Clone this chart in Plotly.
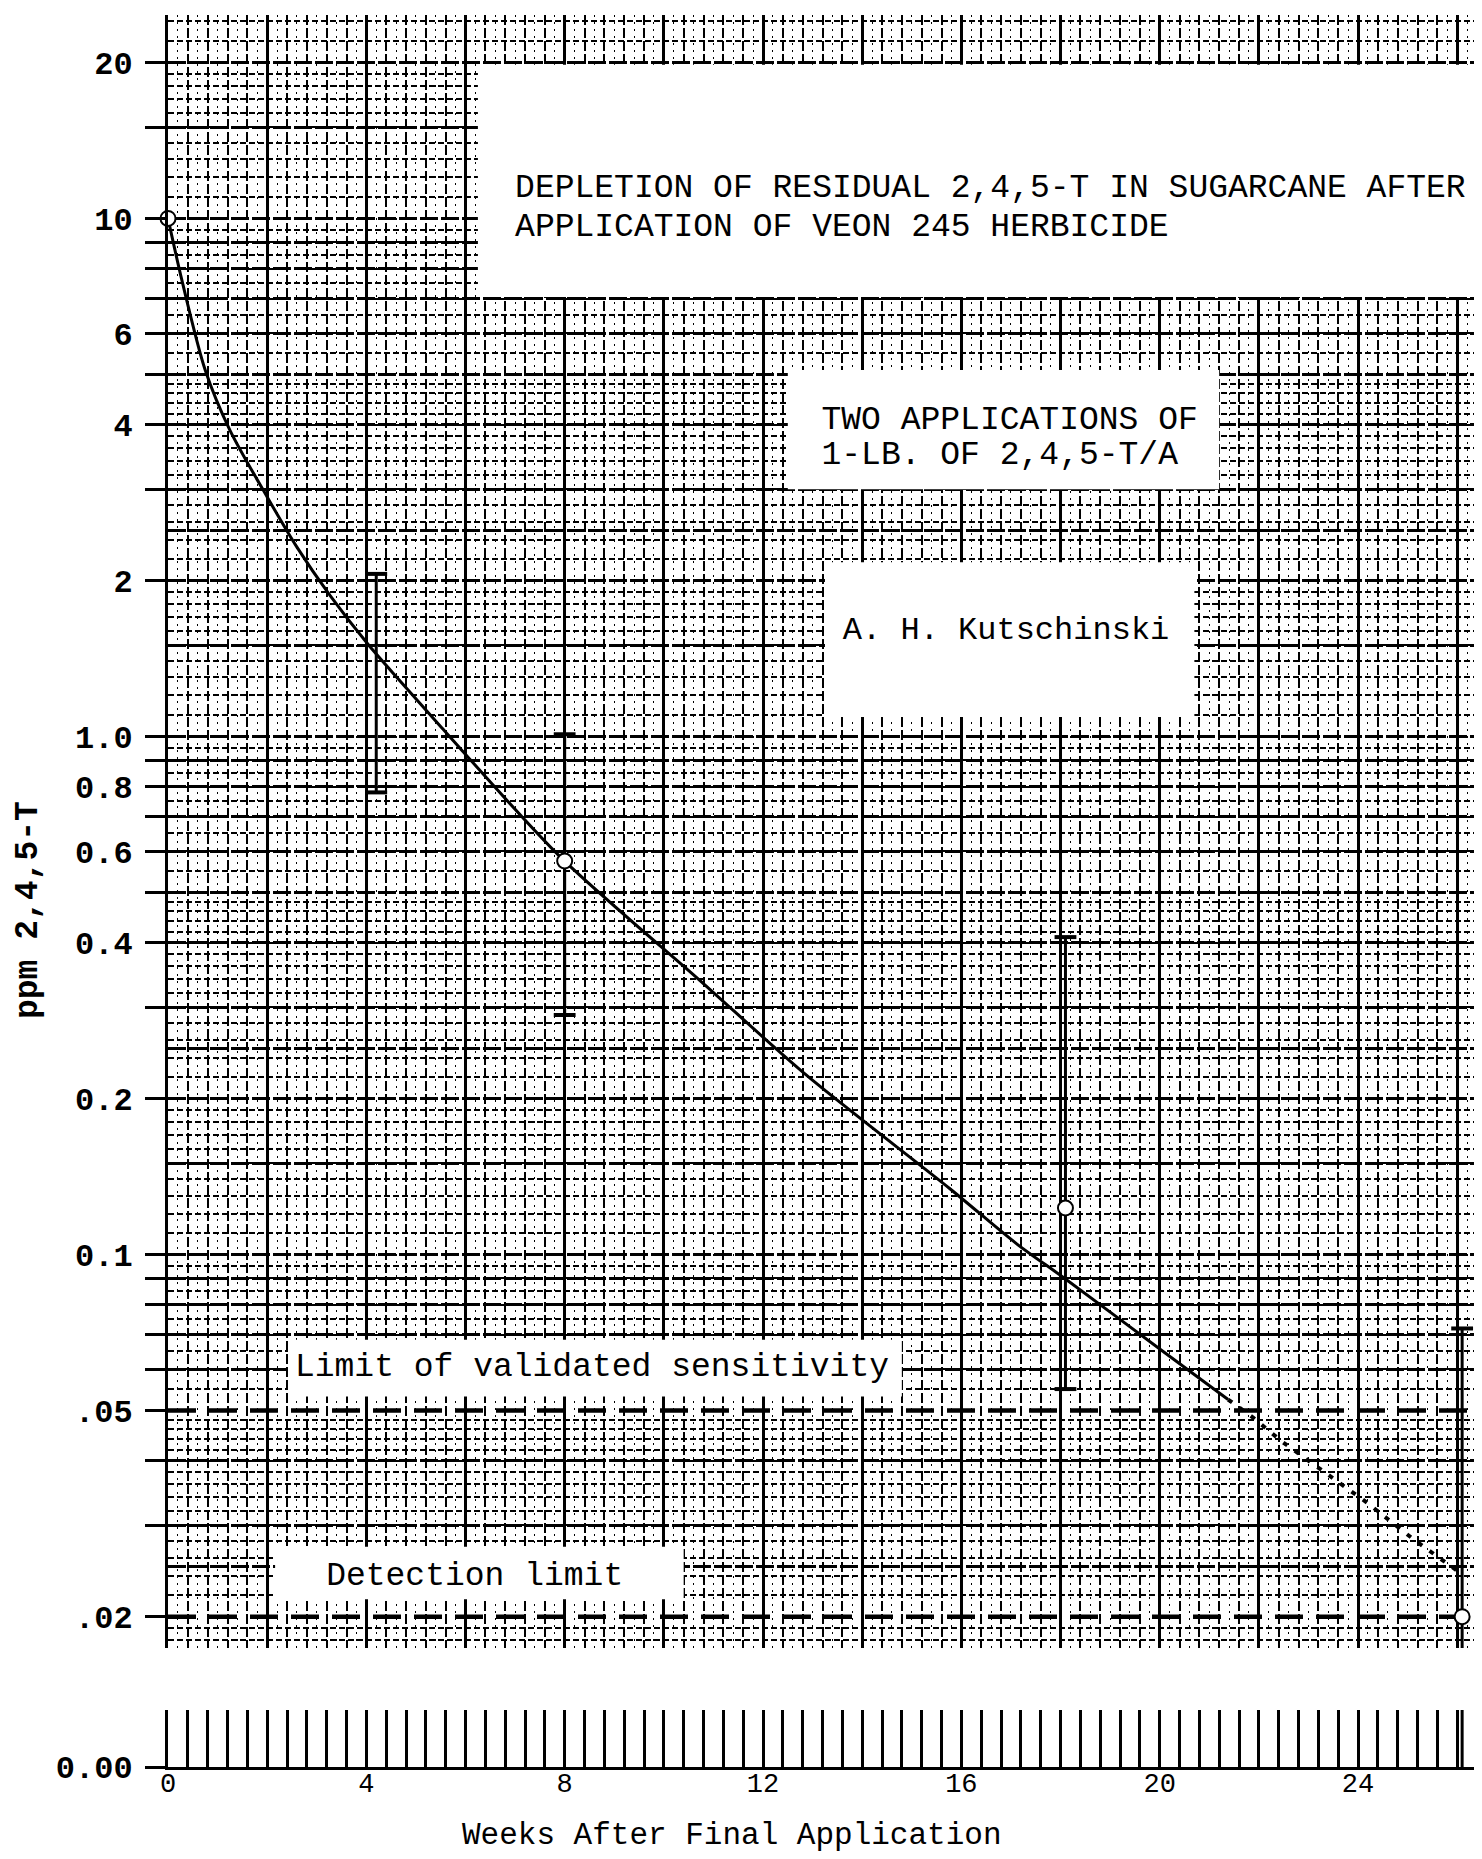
import numpy as np
import plotly.graph_objects as go

# ---------------- data ----------------
CURVE_WEEKS = [0, 0.28, 0.75, 1.25, 2.0, 2.6, 3.27, 4.05, 4.68, 5.52, 7.9, 10.73,
               12.9, 15.77, 17.11, 18.08, 20.07, 21.38]
CURVE_PPM = [10, 7.6, 5.1, 3.9, 2.9, 2.32, 1.87, 1.5, 1.28, 1.04, 0.587, 0.338,
             0.221, 0.134, 0.105, 0.090, 0.065, 0.0525]

EXTRAP_WEEKS = [21.38, 21.89, 22.46, 23.40, 24.18, 25.12, 26.06]
EXTRAP_PPM = [0.0525, 0.0484, 0.0436, 0.0376, 0.0332, 0.0282, 0.0243]

POINT_WEEKS = [0, 8.0, 18.1, 26.1]
POINT_PPM = [10, 0.575, 0.123, 0.02]

BAR_WEEKS = [4.2, 8.0, 18.1, 26.1]
BAR_HIGH = [2.06, 1.01, 0.41, 0.072]
BAR_LOW = [0.78, 0.29, 0.055, 0.0]

LIMIT_VALIDATED = 0.05
LIMIT_DETECTION = 0.02

X_TICKS = [0, 4, 8, 12, 16, 20, 24]
X_TICK_TEXT = ["0", "4", "8", "12", "16", "20", "24"]
Y_TICK_VALS = [20, 10, 6, 4, 2, 1, 0.8, 0.6, 0.4, 0.2, 0.1, 0.05, 0.02]
Y_TICK_TEXT = ["20", "10", "6", "4", "2", "1.0", "0.8", "0.6", "0.4", "0.2",
               "0.1", ".05", ".02"]
Y_MINOR_TICKS = [15, 9, 8, 7, 5, 3, 0.9, 0.7, 0.5, 0.3, 0.09, 0.08, 0.07, 0.06,
                 0.04, 0.03]
ZERO_TEXT = "0.00"

TITLE_LINES = ["DEPLETION OF RESIDUAL 2,4,5-T IN SUGARCANE AFTER",
               "APPLICATION OF VEON 245 HERBICIDE"]
NOTE_LINES = ["TWO APPLICATIONS OF", "1-LB. OF 2,4,5-T/A", "A. H. Kutschinski"]
LIMIT_LABELS = ["Limit of validated sensitivity", "Detection limit"]
X_TITLE = "Weeks After Final Application"
Y_TITLE = "ppm 2,4,5-T"

# ---------------- layout constants ----------------
# the page body has an 8px margin, so the figure is 8px smaller than the window
W, H = 1474, 1851
X_MAX = 26.42
Y_MIN, Y_MAX = 0.0174, 24.7
FONT = "Liberation Mono"
INK = "black"

# label anchor positions (data coords, left-aligned)
TEXT_X = [7.0, 7.0, 13.18, 13.18, 13.61, 2.56, 3.19]
TEXT_Y = [11.4, 9.61, 4.07, 3.49, 1.60, 0.0605, 0.0239]
TEXT_SIZE = [33, 33, 33, 33, 32, 33, 33]

# blank (white) regions of the graph paper
BOX_X0 = [6.25, 12.5, 13.25, 2.42, 2.16]
BOX_X1 = [27.0, 21.2, 20.7, 14.8, 10.4]
BOX_Y0 = [7.05, 3.0, 1.09, 0.0532, 0.0216]
BOX_Y1 = [19.8, 5.1, 2.17, 0.0685, 0.0273]

# graph-paper horizontal rulings
decades = [0.01, 0.1, 1, 10]
bold_m = [1, 1.5, 2, 2.5, 3, 4, 5, 6, 7, 8, 9]
fine_m = np.concatenate([np.arange(1.1, 2.0, 0.1), np.arange(2.2, 5.0, 0.2),
                         np.arange(5.5, 10.0, 0.5)])


def rulings(ms):
    vals = []
    for d in decades:
        for m in ms:
            v = float(m) * d
            if Y_MIN < v < Y_MAX and not np.isclose(v, LIMIT_VALIDATED) \
                    and not np.isclose(v, LIMIT_DETECTION):
                vals.append(v)
    return vals


Y_GRID_BOLD = rulings(bold_m)
Y_GRID_FINE = rulings(fine_m)

fig = go.Figure()

# helper (empty) traces so the overlay ruling axes get drawn
fig.add_trace(go.Scatter(x=[None], y=[None], xaxis="x3", yaxis="y",
                         showlegend=False, hoverinfo="skip"))
fig.add_trace(go.Scatter(x=[None], y=[None], xaxis="x", yaxis="y3",
                         showlegend=False, hoverinfo="skip"))

# white blank areas on the paper
for x0, x1, y0, y1 in zip(BOX_X0, BOX_X1, BOX_Y0, BOX_Y1):
    fig.add_trace(go.Scatter(x=[x0, x1, x1, x0, x0], y=[y0, y0, y1, y1, y0],
                             mode="lines", fill="toself", fillcolor="white",
                             line=dict(width=0, color="white"),
                             showlegend=False, hoverinfo="skip"))

# limit lines
for lim in (LIMIT_VALIDATED, LIMIT_DETECTION):
    fig.add_trace(go.Scatter(x=[0, X_MAX], y=[lim, lim], mode="lines",
                             line=dict(color=INK, width=4.5, dash="28px,13px"),
                             showlegend=False, hoverinfo="skip"))

# error bars
CAP = 0.22
ex, ey, cx, cy, sx, sy = [], [], [], [], [], []
for w, hi, lo in zip(BAR_WEEKS, BAR_HIGH, BAR_LOW):
    ex += [w, w, None]
    ey += [hi, max(lo, Y_MIN), None]
    cx += [w - CAP, w + CAP, None]
    cy += [hi, hi, None]
    if lo > 0:
        cx += [w - CAP, w + CAP, None]
        cy += [lo, lo, None]
    else:
        sx += [w, w, None]
        sy += [1, lo, None]
fig.add_trace(go.Scatter(x=ex, y=ey, mode="lines", line=dict(color=INK, width=3),
                         showlegend=False, hoverinfo="skip"))
fig.add_trace(go.Scatter(x=cx, y=cy, mode="lines", line=dict(color=INK, width=4),
                         showlegend=False, hoverinfo="skip"))
fig.add_trace(go.Scatter(x=sx, y=sy, mode="lines", xaxis="x2", yaxis="y2",
                         line=dict(color=INK, width=3),
                         showlegend=False, hoverinfo="skip"))

# depletion curve and its dotted extrapolation
fig.add_trace(go.Scatter(x=CURVE_WEEKS, y=CURVE_PPM, mode="lines",
                         line=dict(color=INK, width=3, shape="spline", smoothing=0.8),
                         showlegend=False, hoverinfo="skip"))
fig.add_trace(go.Scatter(x=EXTRAP_WEEKS, y=EXTRAP_PPM, mode="lines",
                         line=dict(color=INK, width=4, dash="5px,9px"),
                         showlegend=False, hoverinfo="skip"))

# measured points
fig.add_trace(go.Scatter(x=POINT_WEEKS, y=POINT_PPM, mode="markers",
                         marker=dict(symbol="circle", size=15, color="white",
                                     line=dict(color=INK, width=2)),
                         showlegend=False, hoverinfo="skip", cliponaxis=False))

# texts on the paper
all_text = TITLE_LINES + NOTE_LINES + LIMIT_LABELS
fig.add_trace(go.Scatter(x=TEXT_X, y=TEXT_Y, mode="text", text=all_text,
                         textposition="middle right",
                         textfont=dict(family=FONT, size=TEXT_SIZE, color=INK),
                         showlegend=False, hoverinfo="skip", cliponaxis=False))

axis_common = dict(zeroline=False, color=INK)
PLOT_H = 1752
main_dom_bottom = (1767 - 1648) / PLOT_H
strip_dom_top = (1767 - 1710) / PLOT_H

fig.update_layout(
    width=W, height=H,
    margin=dict(l=160, r=4, t=7, b=92),
    paper_bgcolor="white", plot_bgcolor="white",
    showlegend=False,
    xaxis=dict(domain=[0, 1], anchor="y", range=[0, X_MAX],
               tickmode="array", tickvals=list(np.arange(0, X_MAX, 2)),
               showticklabels=False, ticks="", showline=False,
               showgrid=True, gridcolor=INK, gridwidth=2.8,
               minor=dict(tick0=0, dtick=0.4, showgrid=True, gridcolor=INK,
                          gridwidth=2.3, griddash="10px,3px", ticks=""),
               **axis_common),
    xaxis3=dict(overlaying="x", anchor="y", range=[0, X_MAX],
                tickmode="array", tickvals=list(np.arange(0.2, X_MAX, 0.4)),
                showticklabels=False, ticks="", showline=False,
                showgrid=True, gridcolor=INK, gridwidth=1.3, griddash="2px,5px",
                **axis_common),
    yaxis=dict(domain=[main_dom_bottom, 1], anchor="x", type="log",
               range=[np.log10(Y_MIN), np.log10(Y_MAX)],
               tickmode="array", tickvals=Y_TICK_VALS, ticktext=Y_TICK_TEXT,
               ticks="outside", ticklen=20, tickwidth=3, tickcolor=INK,
               ticklabelstandoff=6,
               tickfont=dict(family=FONT, size=32, color=INK, weight="bold"),
               showline=True, linecolor=INK, linewidth=3, showgrid=False,
               minor=dict(tickmode="array", tickvals=Y_MINOR_TICKS, ticks="outside",
                          ticklen=20, tickwidth=3, tickcolor=INK, showgrid=False),
               **axis_common),
    yaxis3=dict(overlaying="y", anchor="x", side="left", type="log",
                range=[np.log10(Y_MIN), np.log10(Y_MAX)],
                tickmode="array", tickvals=Y_GRID_BOLD,
                showticklabels=False, ticks="", showline=False,
                showgrid=True, gridcolor=INK, gridwidth=2.5, griddash="18px,3px",
                minor=dict(tickmode="array", tickvals=Y_GRID_FINE, ticks="",
                           showgrid=True, gridcolor=INK, gridwidth=1.5,
                           griddash="6px,3px"),
                **axis_common),
    xaxis2=dict(domain=[0, 1], anchor="y2", range=[0, X_MAX],
                tickmode="array", tickvals=X_TICKS, ticktext=X_TICK_TEXT,
                ticks="", ticklabelstandoff=-10,
                tickfont=dict(family=FONT, size=27, color=INK),
                showline=True, linecolor=INK, linewidth=3,
                showgrid=True, gridcolor=INK, gridwidth=2.5,
                minor=dict(tick0=0, dtick=0.4, showgrid=True, gridcolor=INK,
                           gridwidth=2.5, ticks=""),
                **axis_common),
    yaxis2=dict(domain=[0, strip_dom_top], anchor="x2", range=[0, 1],
                tickmode="array", tickvals=[0], ticktext=[ZERO_TEXT],
                ticks="outside", ticklen=20, tickwidth=3, tickcolor=INK,
                ticklabelstandoff=6,
                tickfont=dict(family=FONT, size=32, color=INK, weight="bold"),
                showline=True, linecolor=INK, linewidth=3, showgrid=False,
                **axis_common),
    annotations=[
        dict(text=Y_TITLE, xref="paper", yref="paper", x=(28 - 168) / 1310,
             y=(1767 - 910) / PLOT_H, textangle=-90, showarrow=False,
             xanchor="center", yanchor="middle",
             font=dict(family=FONT, size=33, color=INK, weight="bold")),
        dict(text=X_TITLE, xref="paper", yref="paper", x=(732 - 168) / 1310,
             y=(1767 - 1835) / PLOT_H, showarrow=False,
             xanchor="center", yanchor="middle",
             font=dict(family=FONT, size=31, color=INK)),
    ],
)

fig.write_html("out.html")
